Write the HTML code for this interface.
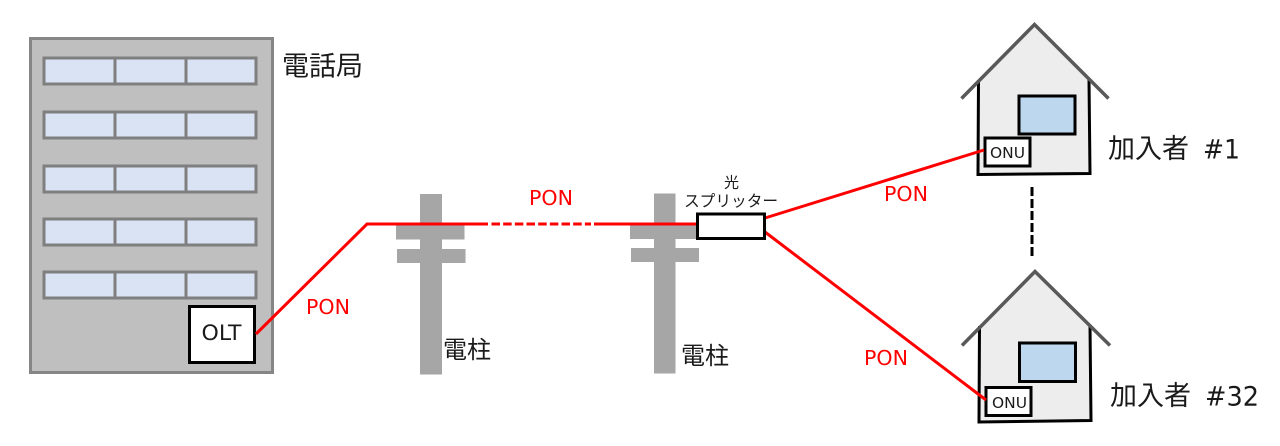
<!DOCTYPE html>
<html>
<head>
<meta charset="utf-8">
<style>
html,body{margin:0;padding:0;background:#fff;}
svg{display:block;}
text{font-family:"DejaVu Sans","Noto Sans CJK JP",sans-serif;}
.j{font-family:"Noto Sans CJK JP",sans-serif;fill:#1a1a1a;}
.r{fill:#ff0000;font-size:20.5px;}
</style>
</head>
<body>
<svg width="1280" height="446" viewBox="0 0 1280 446" xmlns="http://www.w3.org/2000/svg">
<rect width="1280" height="446" fill="#fff"/>

<!-- building -->
<rect x="30.5" y="38.5" width="242" height="334" fill="#bfbfbf" stroke="#868686" stroke-width="3"/>
<g stroke="#7f7f7f" stroke-width="3" fill="#dae3f3">
<rect x="44" y="58" width="71" height="26"/><rect x="115" y="58" width="71" height="26"/><rect x="186" y="58" width="70" height="26"/>
<rect x="44" y="112" width="71" height="26"/><rect x="115" y="112" width="71" height="26"/><rect x="186" y="112" width="70" height="26"/>
<rect x="44" y="166" width="71" height="26"/><rect x="115" y="166" width="71" height="26"/><rect x="186" y="166" width="70" height="26"/>
<rect x="44" y="219" width="71" height="26"/><rect x="115" y="219" width="71" height="26"/><rect x="186" y="219" width="70" height="26"/>
<rect x="44" y="272" width="71" height="26"/><rect x="115" y="272" width="71" height="26"/><rect x="186" y="272" width="70" height="26"/>
</g>
<rect x="189.500" y="306.500" width="65" height="56" fill="#fff" stroke="#000" stroke-width="3"/>
<text x="201.500" y="340" font-size="21" fill="#1a1a1a" textLength="40" lengthAdjust="spacingAndGlyphs">OLT</text>
<text class="j" x="282" y="75.500" font-size="27" textLength="81" lengthAdjust="spacingAndGlyphs">電話局</text>

<!-- poles -->
<g fill="#a6a6a6">
<rect x="420" y="194" width="22" height="180.500"/>
<rect x="396" y="224" width="68.500" height="15.500"/>
<rect x="397" y="249" width="68.500" height="14"/>
<rect x="654" y="193.500" width="21.500" height="180"/>
<rect x="630" y="224" width="68" height="15"/>
<rect x="631" y="248" width="68" height="14"/>
</g>
<text class="j" x="443" y="358" font-size="24">電柱</text>
<text class="j" x="681" y="364" font-size="24">電柱</text>

<!-- houses -->
<g>
<polygon points="978.500,80 1034.500,26 1089,80 1090,173 978,174.500" fill="#ededed"/>
<polyline points="978.500,80 978,174.500 1090,173.500 1089,80" fill="none" stroke="#000" stroke-width="3"/>
<polyline points="961.500,98.500 1034.500,24.500 1108.500,98.500" fill="none" stroke="#595959" stroke-width="3.500"/>
<rect x="1019" y="96" width="56" height="38" fill="#bdd7ee" stroke="#000" stroke-width="3"/>
<rect x="985" y="138" width="45" height="28" fill="#fff" stroke="#000" stroke-width="3"/>
<text x="990" y="158" font-size="15.500" fill="#1a1a1a" textLength="35" lengthAdjust="spacingAndGlyphs">ONU</text>
</g>
<g>
<polygon points="979.500,326 1035,273 1090,326 1091,421 979,422" fill="#ededed"/>
<polyline points="979.500,326 979,422 1091,420.500 1090,326" fill="none" stroke="#000" stroke-width="3"/>
<polyline points="962,345.500 1035,271.500 1110,345.500" fill="none" stroke="#595959" stroke-width="3.500"/>
<rect x="1019.500" y="343" width="56" height="38.500" fill="#bdd7ee" stroke="#000" stroke-width="3"/>
<rect x="986" y="387.500" width="45" height="28" fill="#fff" stroke="#000" stroke-width="3"/>
<text x="992" y="408" font-size="15.500" fill="#1a1a1a" textLength="35" lengthAdjust="spacingAndGlyphs">ONU</text>
</g>
<line x1="1032" y1="187" x2="1032" y2="256" stroke="#000" stroke-width="3" stroke-dasharray="9 3"/>

<text class="j" x="1108" y="158" font-size="27">加入者</text>
<text x="1203" y="158.500" font-size="27" fill="#1a1a1a" textLength="37" lengthAdjust="spacingAndGlyphs">#1</text>
<text class="j" x="1110" y="405" font-size="27">加入者</text>
<text x="1205" y="405.500" font-size="27" fill="#1a1a1a" textLength="54" lengthAdjust="spacingAndGlyphs">#32</text>

<!-- red lines -->
<g fill="none" stroke="#ff0000" stroke-width="3">
<polyline points="256,334 367,224 488,224"/>
<line x1="491.500" y1="224" x2="591" y2="224" stroke-dasharray="8.500 3.170"/>
<line x1="594" y1="224" x2="698" y2="224"/>
<line x1="765" y1="218" x2="984" y2="150"/>
<line x1="765" y1="232" x2="986" y2="400"/>
</g>

<!-- splitter -->
<rect x="697.500" y="214" width="67" height="24.500" fill="#fff" stroke="#000" stroke-width="3"/>
<text class="j" x="724" y="187.500" font-size="15">光</text>
<text class="j" x="684" y="206.500" font-size="15.700">スプリッター</text>

<!-- PON labels -->
<text class="r" x="306" y="314" textLength="44" lengthAdjust="spacingAndGlyphs">PON</text>
<text class="r" x="529" y="205" textLength="44" lengthAdjust="spacingAndGlyphs">PON</text>
<text class="r" x="884" y="201" textLength="44" lengthAdjust="spacingAndGlyphs">PON</text>
<text class="r" x="864" y="365" textLength="44" lengthAdjust="spacingAndGlyphs">PON</text>
</svg>
</body>
</html>
